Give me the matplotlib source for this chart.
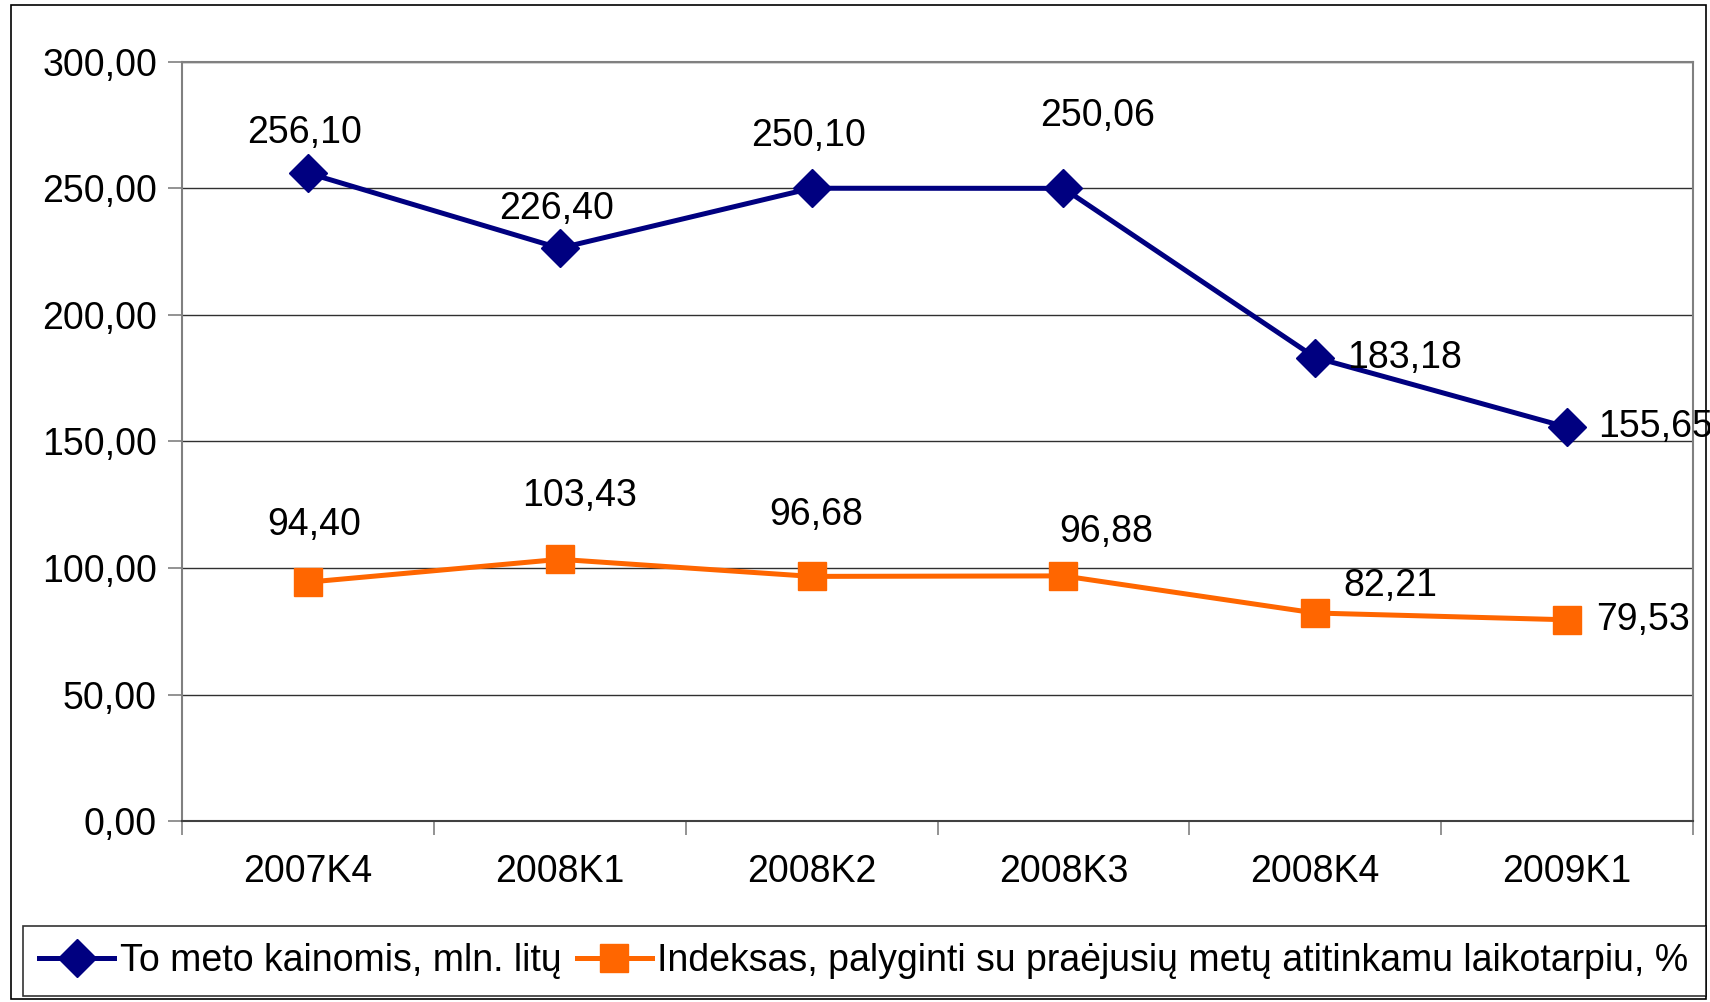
import matplotlib.pyplot as plt
from matplotlib.patches import Rectangle
from matplotlib.ticker import FuncFormatter, FixedLocator
import numpy as np

plt.rcParams['font.family'] = ['Liberation Sans', 'DejaVu Sans']

quarters = ['2007K4', '2008K1', '2008K2', '2008K3', '2008K4', '2009K1']
prices = [256.10, 226.40, 250.10, 250.06, 183.18, 155.65]
index = [94.40, 103.43, 96.68, 96.88, 82.21, 79.53]
label_prices = 'To meto kainomis, mln. litų'
label_index = 'Indeksas, palyginti su praėjusių metų atitinkamu laikotarpiu, %'

# label offsets in pixels (dx, dy), ha
off_prices = [(-3, 40, 'center'), (-3, 39, 'center'), (-3, 52, 'center'),
              (34, 72, 'center'), (32, 0, 'left'), (31, 0, 'left')]
off_index = [(6, 57, 'center'), (20, 63, 'center'), (5, 61, 'center'),
             (43, 44, 'center'), (75, 27, 'center'), (29, 0, 'left')]

FS = 27

fig = plt.figure(figsize=(17.1, 10.02), dpi=100)
ax = fig.add_axes([182 / 1710, 1 - 821 / 1002, 1511 / 1710, 759 / 1002])

x = np.arange(len(quarters))
ax.plot(x, prices, color='#000080', lw=3.6, marker='D', ms=19, label=label_prices, zorder=3)
ax.plot(x, index, color='#FF6600', lw=3.6, marker='s', ms=20, label=label_index, zorder=3)

def fmt(v):
    return f'{v:.2f}'.replace('.', ',')

for xi, v, (dx, dy, ha) in zip(x, prices, off_prices):
    ax.annotate(fmt(v), (xi, v), xytext=(dx * 0.72, dy * 0.72), textcoords='offset points',
                ha=ha, va='center', fontsize=FS)
for xi, v, (dx, dy, ha) in zip(x, index, off_index):
    ax.annotate(fmt(v), (xi, v), xytext=(dx * 0.72, dy * 0.72), textcoords='offset points',
                ha=ha, va='center', fontsize=FS)

ax.set_xlim(-0.5, 5.5)
ax.set_ylim(0, 300)
ax.set_yticks(np.arange(0, 301, 50))
ax.yaxis.set_major_formatter(FuncFormatter(lambda v, p: fmt(v)))
ax.set_xticks(x)
ax.set_xticklabels(quarters)
ax.xaxis.set_minor_locator(FixedLocator(np.arange(-0.5, 5.6, 1)))
ax.tick_params(axis='x', which='major', length=0, pad=24, labelsize=FS)
ax.tick_params(axis='x', which='minor', length=10, width=1.2, color='#808080')
ax.tick_params(axis='y', length=10, width=1.2, color='#808080', labelsize=FS, pad=8)
ax.grid(axis='y', color='#303030', lw=1)
ax.set_axisbelow(True)
for s in ax.spines.values():
    s.set_color('#808080')
    s.set_linewidth(1.5)
ax.spines['bottom'].set_color('#404040')

# outer chart border
fig.patches.append(Rectangle((11 / 1710, 3 / 1002), 1695 / 1710, 994 / 1002,
                             transform=fig.transFigure, fill=False, ec='black', lw=1.2))

leg = fig.legend(loc='center', bbox_to_anchor=(864 / 1710, 1 - 961 / 1002), ncol=2,
                 fontsize=FS, frameon=True, fancybox=False, edgecolor='black',
                 handlelength=2.0, handletextpad=0.15, columnspacing=0.4, borderpad=0.45,
                 borderaxespad=0)
leg.get_frame().set_linewidth(1.2)

fig.savefig('out.png', dpi=100)
